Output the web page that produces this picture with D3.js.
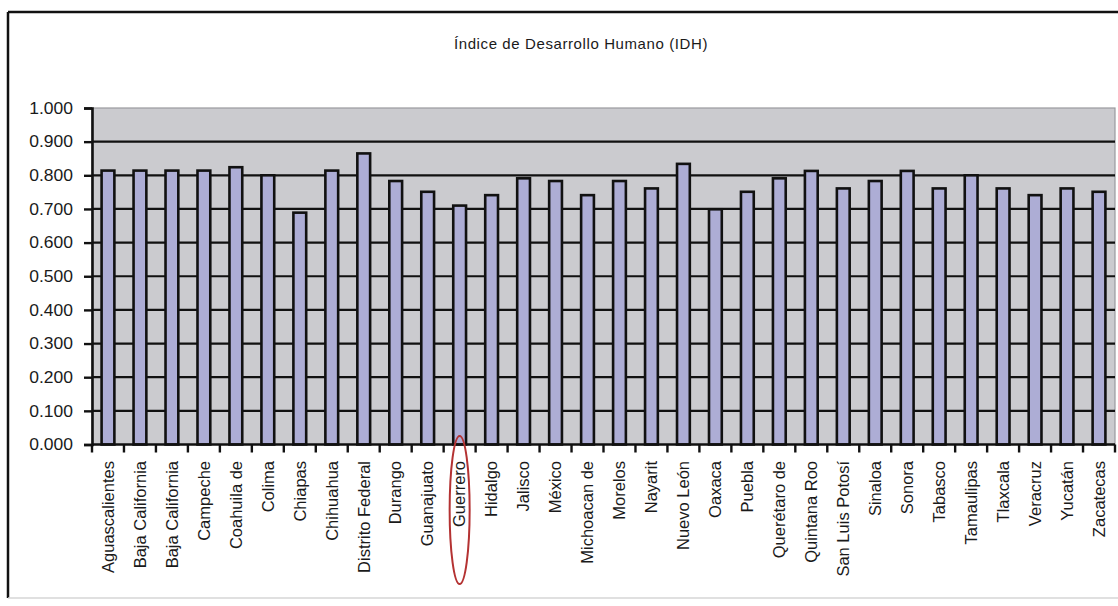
<!DOCTYPE html>
<html>
<head>
<meta charset="utf-8">
<script src="https://cdn.jsdelivr.net/npm/d3@7/dist/d3.min.js"></script>
<style>
  html, body { margin: 0; padding: 0; background: #ffffff; }
  svg { display: block; }
  text { font-family: "Liberation Sans", Arial, sans-serif; fill: #1a1a1a; }
</style>
</head>
<body>
<svg id="chart" width="1118" height="606"></svg>
<script>
const title = "Índice de Desarrollo Humano (IDH)";
const categories = [
  "Aguascalientes", "Baja California", "Baja California", "Campeche", "Coahuila de",
  "Colima", "Chiapas", "Chihuahua", "Distrito Federal", "Durango", "Guanajuato",
  "Guerrero", "Hidalgo", "Jalisco", "México", "Michoacan de", "Morelos", "Nayarit",
  "Nuevo León", "Oaxaca", "Puebla", "Querétaro de", "Quintana Roo", "San Luis Potosí",
  "Sinaloa", "Sonora", "Tabasco", "Tamaulipas", "Tlaxcala", "Veracruz", "Yucatán", "Zacatecas"
];
const idhValues = [
  0.814, 0.814, 0.814, 0.814, 0.824,
  0.800, 0.689, 0.814, 0.865, 0.783, 0.751,
  0.710, 0.741, 0.791, 0.783, 0.741, 0.783, 0.761,
  0.834, 0.699, 0.751, 0.791, 0.813, 0.761,
  0.783, 0.813, 0.761, 0.800, 0.761, 0.741, 0.761, 0.751
];
const yTicks = [0, 0.1, 0.2, 0.3, 0.4, 0.5, 0.6, 0.7, 0.8, 0.9, 1.0];
const highlighted = "Guerrero";

const svg = d3.select("#chart");
const plot = { left: 92, right: 1115, top: 108, bottom: 444.5 };

const x = d3.scaleBand()
  .domain(d3.range(categories.length))
  .range([plot.left, plot.right])
  .paddingInner(0)
  .paddingOuter(0);
const y = d3.scaleLinear().domain([0, 1]).range([plot.bottom, plot.top]);

// outer frame
svg.append("line").attr("x1", 8).attr("x2", 1118).attr("y1", 12).attr("y2", 12)
  .attr("stroke", "#111").attr("stroke-width", 2.5);
svg.append("line").attr("x1", 8).attr("x2", 8).attr("y1", 12).attr("y2", 598)
  .attr("stroke", "#111").attr("stroke-width", 2.5);
svg.append("line").attr("x1", 8).attr("x2", 1118).attr("y1", 598).attr("y2", 598)
  .attr("stroke", "#d6d6d6").attr("stroke-width", 1.5);

// title
svg.append("text")
  .attr("x", 581).attr("y", 49)
  .attr("text-anchor", "middle")
  .attr("font-size", 15)
  .attr("letter-spacing", 0.6)
  .text(title);

// plot background
svg.append("rect")
  .attr("x", plot.left).attr("y", y(1))
  .attr("width", plot.right - plot.left).attr("height", y(0) - y(1))
  .attr("fill", "#cbcbcf")
  .attr("stroke", "#9a9a9e").attr("stroke-width", 1.2);

// gridlines
svg.append("g").selectAll("line")
  .data(yTicks.filter(t => t > 0 && t < 1))
  .join("line")
  .attr("x1", plot.left).attr("x2", plot.right)
  .attr("y1", d => y(d)).attr("y2", d => y(d))
  .attr("stroke", "#111").attr("stroke-width", 2.2);

// bars
const barW = x.bandwidth() * 0.4;
svg.append("g").selectAll("rect")
  .data(idhValues)
  .join("rect")
  .attr("x", (d, i) => x(i) + (x.bandwidth() - barW) / 2)
  .attr("y", d => y(d))
  .attr("width", barW)
  .attr("height", d => y(0) - y(d))
  .attr("fill", "#adadd5")
  .attr("stroke", "#111")
  .attr("stroke-width", 2.6);

// y axis
const yAxis = d3.axisLeft(y)
  .tickValues(yTicks)
  .tickFormat(d3.format(".3f"))
  .tickSize(8)
  .tickPadding(10);
const gy = svg.append("g").attr("transform", `translate(${plot.left},0)`).call(yAxis);
gy.select(".domain").attr("stroke", "#111").attr("stroke-width", 2.6);
gy.selectAll(".tick line").attr("stroke", "#111").attr("stroke-width", 2.4);
gy.selectAll(".tick text")
  .attr("font-size", 16.5)
  .attr("fill", "#1a1a1a")
  .style("font-family", "'Liberation Sans', Arial, sans-serif")
  .attr("transform", "translate(-18,0) scale(1.06,1) translate(16.98,0)");

// x axis line
svg.append("line")
  .attr("x1", plot.left).attr("x2", plot.right)
  .attr("y1", y(0)).attr("y2", y(0))
  .attr("stroke", "#111").attr("stroke-width", 2.6);

// x boundary ticks
const boundaries = d3.range(categories.length).map(i => x(i)).concat([x.range()[1]]);
svg.append("g").selectAll("line")
  .data(boundaries)
  .join("line")
  .attr("x1", d => d).attr("x2", d => d)
  .attr("y1", y(0)).attr("y2", y(0) + 8)
  .attr("stroke", "#111").attr("stroke-width", 2.4);

// x labels
svg.append("g").selectAll("text")
  .data(categories)
  .join("text")
  .attr("transform", (d, i) => `translate(${x(i) + x.bandwidth() / 2},461) rotate(-90)`)
  .attr("text-anchor", "end")
  .attr("dy", "0.35em")
  .attr("font-size", 16.5)
  .text(d => d);

// highlight ellipse around Guerrero label
const hi = categories.indexOf(highlighted);
svg.append("ellipse")
  .attr("cx", x(hi) + x.bandwidth() / 2)
  .attr("cy", 510)
  .attr("rx", 10)
  .attr("ry", 74)
  .attr("fill", "none")
  .attr("stroke", "#b43232")
  .attr("stroke-width", 2);
</script>
</body>
</html>
